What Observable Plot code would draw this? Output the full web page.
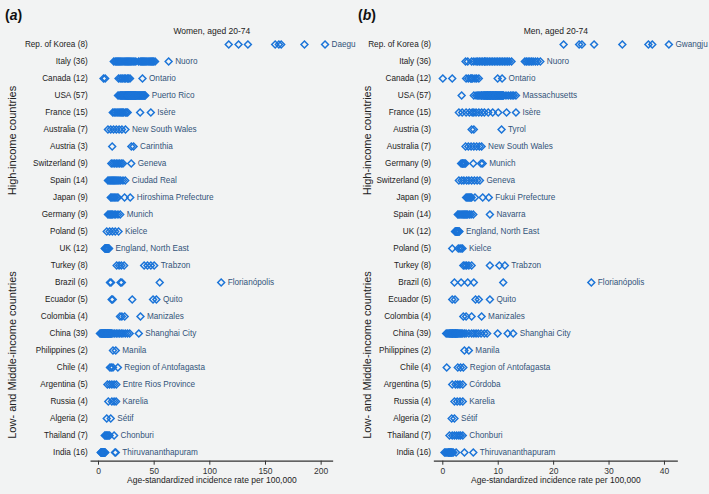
<!DOCTYPE html>
<html><head><meta charset="utf-8">
<script src="https://cdn.jsdelivr.net/npm/d3@7"></script>
<script src="https://cdn.jsdelivr.net/npm/@observablehq/plot@0.6"></script>
<style>
body{margin:0;background:#f2f3f3;}
#wrap{position:relative;width:709px;height:494px;display:flex;font-family:"Liberation Sans",Arial,sans-serif;color:#111;}
.panel{position:relative;}
.tag{position:absolute;top:8px;font-size:14px;line-height:14px;font-weight:bold;}
</style></head>
<body><div id="wrap"><div class="panel" id="pa"><div class="tag" style="left:5px">(<i>a</i>)</div></div><div class="panel" id="pb"><div class="tag" style="left:3px">(<i>b</i>)</div></div></div>
<script>
// ---------- Women ----------
const womenCountries = ["Rep. of Korea (8)","Italy (36)","Canada (12)","USA (57)","France (15)","Australia (7)","Austria (3)","Switzerland (9)","Spain (14)","Japan (9)","Germany (9)","Poland (5)","UK (12)","Turkey (8)","Brazil (6)","Ecuador (5)","Colombia (4)","China (39)","Philippines (2)","Chile (4)","Argentina (5)","Russia (4)","Algeria (2)","Thailand (7)","India (16)"];
const womenTopRegistry = ["Daegu","Nuoro","Ontario","Puerto Rico","Isère","New South Wales","Carinthia","Geneva","Ciudad Real","Hiroshima Prefecture","Munich","Kielce","England, North East","Trabzon","Florianópolis","Quito","Manizales","Shanghai City","Manila","Region of Antofagasta","Entre Rios Province","Karelia","Sétif","Chonburi","Thiruvananthapuram"];
const womenRates = [
  [117, 125.8, 134.2, 158.7, 162, 164.1, 185, 203.5],
  [13.7, 15, 16, 17, 18, 19, 20, 21, 22, 23, 24, 25, 26, 27, 28, 29, 30, 31, 32, 33.5, 36, 37.5, 38.5, 39.5, 40.5, 41.5, 42.5, 43.5, 44.5, 45.5, 46.5, 47.5, 48.5, 49.5, 50.8, 63],
  [4.5, 6, 18, 19.5, 21, 22, 23.5, 24.5, 26, 27, 28.3, 39.5],
  [17.5, 18.5, 19.5, 20, 20.5, 21, 21.5, 22, 22.5, 23, 23.5, 24, 24.3, 24.8, 25.2, 25.6, 26, 26.4, 26.8, 27.2, 27.6, 28, 28.4, 28.8, 29.2, 29.6, 30, 30.4, 30.8, 31.2, 31.6, 32, 32.4, 32.8, 33.2, 33.6, 34, 34.5, 35, 35.5, 36, 36.5, 37, 37.5, 38, 38.5, 39, 39.5, 40, 40.5, 41, 41.5, 27, 29, 31, 33, 42],
  [12.8, 14, 15, 16.5, 17.5, 18.5, 19.5, 20.5, 21.5, 22.5, 24, 25, 26.2, 37.4, 47],
  [8.5, 11, 13.5, 16, 18.5, 21, 24.2],
  [12.3, 29.5, 31.5],
  [11.5, 13, 14.5, 16, 17.5, 19, 20.5, 22, 29.4],
  [8.5, 9.5, 10.5, 11.5, 12.5, 13.5, 14.5, 15.5, 16.5, 17.5, 18.5, 20, 22, 24],
  [11, 12, 13, 14, 15, 16.5, 17.5, 23.4, 28.5],
  [8.5, 9.5, 10.5, 11.5, 12.5, 14, 15.5, 17.5, 19.5],
  [7.4, 10, 12.5, 15, 18],
  [5.6, 6, 6.4, 6.8, 7.1, 7.4, 7.7, 8, 8.3, 8.6, 9, 9.5],
  [16.3, 18.5, 20.5, 23, 41, 44, 47, 50],
  [10.3, 11.3, 19.8, 21, 55, 110.2],
  [11.8, 12.8, 30.3, 49, 52],
  [19.3, 21, 23.5, 37.7],
  [1.3, 2, 2.5, 3, 3.5, 4, 4.5, 5, 5.5, 6, 6.5, 7, 7.5, 8, 8.5, 9, 9.5, 10, 10.5, 11, 11.5, 12, 3.2, 4.8, 6.2, 7.8, 9.2, 5.3, 13, 14.5, 16, 17.5, 19, 20.5, 22, 24, 26, 28, 36.2],
  [13, 15.5],
  [10.3, 11.5, 13, 17.4],
  [8, 10, 12, 14, 16],
  [8.8, 12, 14, 15.8],
  [7.4, 11],
  [5.6, 6.5, 7.3, 8, 9, 10, 14],
  [2, 2.3, 2.6, 2.9, 3.2, 3.5, 3.8, 4.1, 4.4, 4.7, 5, 5.3, 5.6, 6.1, 14.8, 15.5]
];
const womenTicks = [0, 50, 100, 150, 200];

// ---------- Men ----------
const menCountries = ["Rep. of Korea (8)","Italy (36)","Canada (12)","USA (57)","France (15)","Austria (3)","Australia (7)","Germany (9)","Switzerland (9)","Japan (9)","Spain (14)","UK (12)","Poland (5)","Turkey (8)","Brazil (6)","Ecuador (5)","Colombia (4)","China (39)","Philippines (2)","Chile (4)","Argentina (5)","Russia (4)","Algeria (2)","Thailand (7)","India (16)"];
const menTopRegistry = ["Gwangju","Nuoro","Ontario","Massachusetts","Isère","Tyrol","New South Wales","Munich","Geneva","Fukui Prefecture","Navarra","England, North East","Kielce","Trabzon","Florianópolis","Quito","Manizales","Shanghai City","Manila","Region of Antofagasta","Córdoba","Karelia","Sétif","Chonburi","Thiruvananthapuram"];
const menRates = [
  [21.8, 24.6, 25.1, 27.3, 32.4, 37.1, 37.8, 40.8],
  [4.1, 4.5, 5.2, 5.6, 6, 6.3, 6.6, 6.9, 7.2, 7.5, 7.8, 8.1, 8.4, 8.7, 9, 9.3, 9.6, 9.9, 10.2, 10.5, 10.8, 11.1, 11.4, 11.7, 12, 12.4, 7.6, 14.8, 15.1, 15.4, 15.7, 16, 16.3, 16.7, 17.1, 17.6],
  [0, 1.7, 4.2, 4.6, 5, 5.2, 5.4, 5.8, 6.1, 6.5, 9.9, 10.7],
  [3.4, 5.6, 6.0, 6.3, 6.5, 6.7, 6.9, 7.1, 7.3, 7.5, 7.6, 7.7, 7.8, 7.9, 8.0, 8.1, 8.2, 8.3, 8.4, 8.5, 8.6, 8.7, 8.8, 8.9, 9.0, 9.1, 9.2, 9.3, 9.4, 9.5, 9.6, 9.7, 9.8, 9.9, 10.0, 10.1, 10.2, 10.3, 10.4, 10.5, 10.6, 10.7, 10.8, 10.9, 11.0, 7.0, 7.4, 8.05, 8.55, 9.05, 9.55, 11.4, 11.8, 12.2, 12.5, 12.8, 13.2],
  [2.9, 3.5, 4.2, 4.8, 5.3, 5.6, 6, 6.5, 7, 7.5, 8.2, 9, 10, 11.5, 13.2],
  [5.2, 5.6, 10.6],
  [4.1, 4.6, 5.1, 5.6, 6.1, 6.6, 7.0],
  [3.3, 3.5, 3.6, 3.7, 3.9, 4.1, 5.5, 6.9, 7.2],
  [2.9, 3.4, 3.8, 4.3, 4.7, 5.2, 5.7, 6.2, 6.7],
  [4.2, 4.4, 4.6, 4.8, 5, 5.2, 5.8, 7.2, 8.3],
  [2.7, 2.9, 3.1, 3.3, 3.5, 3.7, 3.9, 4.1, 4.3, 4.5, 4.8, 5.1, 5.5, 8.5],
  [2.2, 2.3, 2.4, 2.45, 2.5, 2.55, 2.6, 2.65, 2.7, 2.8, 2.9, 3.0],
  [1.7, 2.8, 3.1, 3.3, 3.55],
  [3.7, 4, 4.3, 4.7, 5.2, 8.5, 10.2, 11.2],
  [2.1, 3.3, 4.5, 5.6, 10.9, 26.8],
  [1.7, 2.2, 5.9, 6.5, 8.5],
  [3.7, 4.2, 5.2, 7],
  [0.6, 0.8, 1.0, 1.2, 1.4, 1.5, 1.6, 1.7, 1.8, 1.9, 2.0, 2.1, 2.2, 2.3, 2.4, 2.5, 2.6, 2.8, 3.0, 3.2, 3.4, 3.6, 1.3, 1.75, 2.25, 2.7, 4.2, 4.7, 5.2, 5.6, 6.0, 6.4, 6.9, 7.5, 8.0, 9.9, 11.7, 12.7, 3.9],
  [3.9, 4.7],
  [0.7, 2.7, 3.2, 3.7],
  [1.7, 2.3, 2.7, 3.1, 3.6],
  [2.1, 2.6, 3.1, 3.6],
  [1.6, 2.1],
  [1.2, 1.7, 2.1, 2.5, 2.9, 3.2, 3.6],
  [0.3, 0.5, 0.7, 0.9, 1.0, 1.1, 1.2, 1.3, 1.4, 1.5, 1.6, 1.7, 1.9, 2.4, 3.9, 5.5]
];
const menTicks = [0, 10, 20, 30, 40];

// ---------- Groups ----------
const groupNames = ["High-income countries", "Low- and Middle-income countries"];
const groupSizes = [13, 12];
const axisTitle = "Age-standardized incidence rate per 100,000";

const BLUE = "#1b74d8";
const LABEL = "#33547a";
const FONT = "'Liberation Sans', Arial, sans-serif";

function panel(o) {
  const pts = o.countries.flatMap((c, i) => o.rates[i].map(v => ({country: c, v})));
  const tops = o.countries.map((c, i) => ({country: c, v: d3.max(o.rates[i]), name: o.top[i]}));
  const hiMid = o.countries[Math.floor((groupSizes[0] - 1) / 2)];
  const lmMid = o.countries[groupSizes[0] + Math.floor((groupSizes[1] - 1) / 2)];
  return Plot.plot({
    width: o.width, height: 494,
    marginLeft: o.marginLeft, marginRight: o.marginRight, marginTop: 34.8, marginBottom: 33.3,
    style: {background: "none", fontFamily: FONT, overflow: "visible", color: "#222"},
    x: {domain: o.domain},
    y: {type: "point", domain: o.countries, padding: 0.5},
    marks: [
      Plot.frame({anchor: "bottom", stroke: "#333", strokeWidth: 1.3}),
      Plot.axisX({ticks: o.ticks, tickSize: 4, tickPadding: 2.5, fontSize: 8.5, color: "#333", label: null}),
      Plot.axisY({tickSize: 0, tickPadding: 3.5, fontSize: 8.2, color: "#222", label: null}),
      Plot.dot(pts, {x: "v", y: "country", symbol: "diamond2", r: 3.1, stroke: BLUE, strokeWidth: 1.5, fill: "none"}),
      Plot.text(tops, {x: "v", y: "country", text: "name", textAnchor: "start", dx: 6.5, fill: LABEL, fontSize: 8.2}),
      Plot.text([groupNames[0]], {y: [hiMid], text: d => d, frameAnchor: "left", textAnchor: "middle", dx: o.groupDx, dy: -6, rotate: -90, fontSize: 11, fill: "#222"}),
      Plot.text([groupNames[1]], {y: [lmMid], text: d => d, frameAnchor: "left", textAnchor: "middle", dx: o.groupDx, dy: 4.5, rotate: -90, fontSize: 11, fill: "#222"}),
      Plot.text([o.subtitle], {text: d => d, frameAnchor: "top", dy: -7.5, fontSize: 8.5, fill: "#222"}),
      Plot.text([axisTitle], {text: d => d, frameAnchor: "bottom", dy: 21.5, fontSize: 8.5, fill: "#222"})
    ]
  });
}

document.getElementById("pa").append(panel({
  countries: womenCountries, rates: womenRates, top: womenTopRegistry,
  width: 355, marginLeft: 90.7, marginRight: 23, domain: [-6.56, 210.2], ticks: womenTicks,
  groupDx: -78.5, subtitle: "Women, aged 20-74"
}));
document.getElementById("pb").append(panel({
  countries: menCountries, rates: menRates, top: menTopRegistry,
  width: 354, marginLeft: 79, marginRight: 32.3, domain: [-1.5, 42.3], ticks: menTicks,
  groupDx: -67, subtitle: "Men, aged 20-74"
}));
</script>
</body></html>
